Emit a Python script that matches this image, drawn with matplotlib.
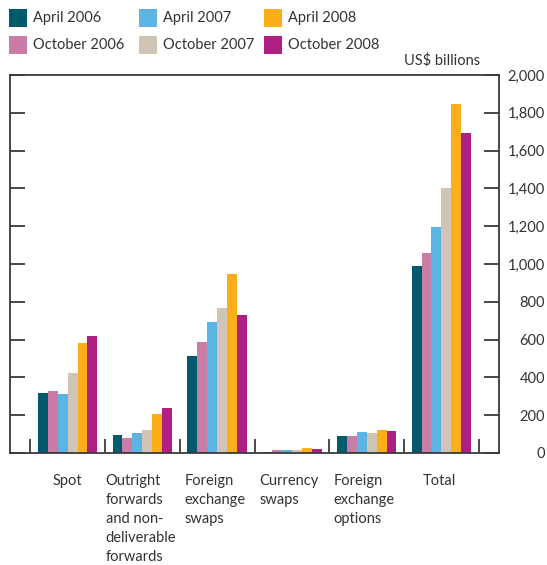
import numpy as np
import matplotlib.pyplot as plt
from matplotlib.patches import Rectangle

plt.rcParams['font.family'] = ['Lato', 'DejaVu Sans']

# Категории и серии (US$ billions)
categories = ['Spot', 'Outright\nforwards\nand non-\ndeliverable\nforwards',
              'Foreign\nexchange\nswaps', 'Currency\nswaps',
              'Foreign\nexchange\noptions', 'Total']
series_names = ['April 2006', 'October 2006', 'April 2007',
                'October 2007', 'April 2008', 'October 2008']

apr_2006 = [315, 94, 513, 7, 88, 990]
oct_2006 = [326, 77, 587, 14, 88, 1058]
apr_2007 = [310, 104, 693, 14, 110, 1195]
oct_2007 = [423, 121, 767, 18, 104, 1400]
apr_2008 = [582, 207, 947, 29, 121, 1848]
oct_2008 = [619, 240, 730, 23, 115, 1692]

values = [apr_2006, oct_2006, apr_2007, oct_2007, apr_2008, oct_2008]
colors = ['#005A6E', '#C97CA6', '#5CB4E5', '#D0C4B6', '#FBAE17', '#AF1E83']

W, H = 547, 565
fig = plt.figure(figsize=(W / 100, H / 100), dpi=100)
ax = fig.add_axes([10 / W, 1 - 453 / H, 489 / W, 378 / H])

x = np.arange(len(categories))
bw = 0.133
for k, (vals, c) in enumerate(zip(values, colors)):
    ax.bar(x + (k - 2.5) * bw, vals, width=bw, color=c, linewidth=0)

ax.set_xlim(-0.77, 5.77)
ax.set_ylim(0, 2000)

edge = '#3a3a3a'
for s in ax.spines.values():
    s.set_color(edge)
    s.set_linewidth(1.3)

# ось Y справа, засечки внутрь с обеих сторон
ax.yaxis.set_ticks_position('both')
ax.set_yticks(np.arange(0, 2001, 200))
ax.set_yticklabels([f'{v:,}' for v in range(0, 2001, 200)])
ax.tick_params(axis='y', direction='in', length=11, width=1.3, color=edge,
               left=True, right=True, labelleft=False, labelright=True,
               labelsize=10.5, labelcolor='#333333', pad=33)
for lbl in ax.get_yticklabels():
    lbl.set_horizontalalignment('right')

# разделители категорий снизу
ax.set_xticks(np.arange(-0.5, 6.0, 1.0))
ax.set_xticklabels([])
ax.tick_params(axis='x', direction='in', length=10, width=1.3, color=edge)

# подписи категорий (выровнены влево)
label_offsets = [-0.2, -0.49, -0.44, -0.43, -0.44, -0.25]
for i, (name, off) in enumerate(zip(categories, label_offsets)):
    ax.text(i + off, -0.056, name, transform=ax.get_xaxis_transform(),
            ha='left', va='top', fontsize=10.5, color='#333333',
            linespacing=1.45)

fig.text(480 / W, 1 - 60 / H, 'US$ billions', ha='right', va='center',
         fontsize=10.5, color='#333333')

# легенда вручную
legend_cols = [9, 139, 264]
legend_rows = [9, 36]
for k, (name, c) in enumerate(zip(series_names, colors)):
    col, row = k // 2, k % 2
    px, py = legend_cols[col], legend_rows[row]
    fig.add_artist(Rectangle((px / W, 1 - (py + 18) / H), 18 / W, 18 / H,
                             transform=fig.transFigure, color=c, lw=0))
    fig.text((px + 24) / W, 1 - (py + 9) / H, name, ha='left', va='center',
             fontsize=10.5, color='#333333')

fig.savefig('out.png', dpi=100)
